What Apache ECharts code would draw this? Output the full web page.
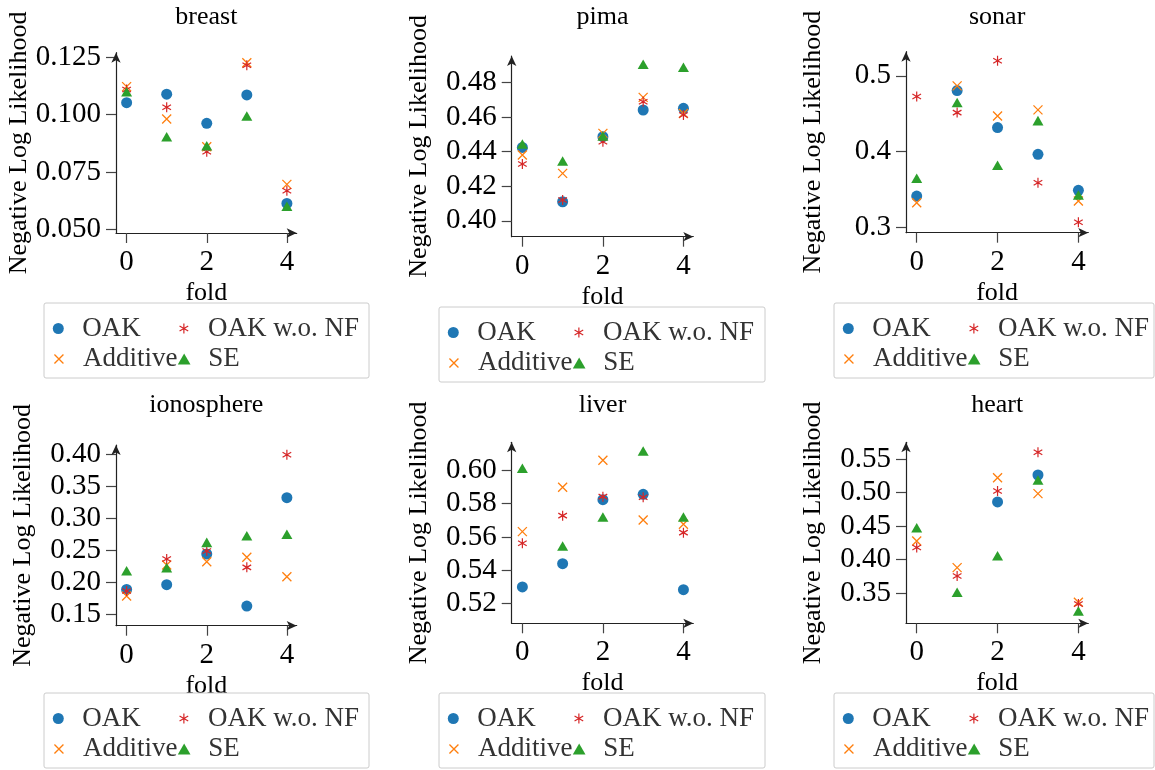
<!DOCTYPE html>
<html><head><meta charset="utf-8">
<script src="https://cdn.jsdelivr.net/npm/echarts@6/dist/echarts.min.js"></script>
<style>html,body{margin:0;padding:0;background:#fff}#c{width:1155px;height:770px}</style>
</head><body><div id="c"></div><script>
// ---------------- data ----------------
const folds = [0, 1, 2, 3, 4];
const foldTicks = [0, 2, 4];
const seriesNames = ['OAK', 'Additive', 'OAK w.o. NF', 'SE'];

const breastOAK      = [0.1052, 0.1089, 0.0962, 0.1086, 0.0613];
const breastAdditive = [0.1122, 0.0981, 0.0860, 0.1226, 0.0696];
const breastNoNF     = [0.1110, 0.1032, 0.0838, 0.1215, 0.0668];
const breastSE       = [0.1100, 0.0904, 0.0864, 0.0994, 0.0601];
const breastTicks    = [0.050, 0.075, 0.100, 0.125];

const pimaOAK      = [0.4424, 0.4110, 0.4486, 0.4640, 0.4650];
const pimaAdditive = [0.4380, 0.4274, 0.4505, 0.4713, 0.4620];
const pimaNoNF     = [0.4328, 0.4120, 0.4457, 0.4688, 0.4611];
const pimaSE       = [0.4443, 0.4345, 0.4490, 0.4904, 0.4887];
const pimaTicks    = [0.40, 0.42, 0.44, 0.46, 0.48];

const sonarOAK      = [0.3410, 0.4806, 0.4316, 0.3962, 0.3486];
const sonarAdditive = [0.3322, 0.4868, 0.4470, 0.4550, 0.3344];
const sonarNoNF     = [0.4726, 0.4514, 0.5199, 0.3587, 0.3062];
const sonarSE       = [0.3645, 0.4647, 0.3817, 0.4408, 0.3424];
const sonarTicks    = [0.3, 0.4, 0.5];

const ionoOAK      = [0.1891, 0.1965, 0.2445, 0.1630, 0.3327];
const ionoAdditive = [0.1787, 0.2272, 0.2325, 0.2393, 0.2090];
const ionoNoNF     = [0.1865, 0.2366, 0.2492, 0.2236, 0.4000];
const ionoSE       = [0.2184, 0.2231, 0.2627, 0.2732, 0.2753];
const ionoTicks    = [0.15, 0.20, 0.25, 0.30, 0.35, 0.40];

const liverOAK      = [0.5300, 0.5440, 0.5824, 0.5856, 0.5284];
const liverAdditive = [0.5632, 0.5898, 0.6060, 0.5702, 0.5676];
const liverNoNF     = [0.5562, 0.5728, 0.5842, 0.5838, 0.5626];
const liverSE       = [0.6012, 0.5546, 0.5720, 0.6116, 0.5720];
const liverTicks    = [0.52, 0.54, 0.56, 0.58, 0.60];

const heartOAK      = [null, null, 0.4858, 0.5261, null];
const heartAdditive = [0.4276, 0.3878, 0.5221, 0.4983, 0.3360];
const heartNoNF     = [0.4177, 0.3754, 0.5022, 0.5600, 0.3336];
const heartSE       = [0.4475, 0.3510, 0.4057, 0.5187, 0.3231];
const heartTicks    = [0.35, 0.40, 0.45, 0.50, 0.55];

// ---------------- style / layout ----------------
const FONT = "'Liberation Serif', 'DejaVu Serif', serif";
const colors = ['#1f77b4', '#ff7f0e', '#d62728', '#2ca02c'];
const symbols = ['circle',
  'path://M0,0L10,10M10,0L0,10',
  'path://M5,0L5,10M0.67,2.5L9.33,7.5M0.67,7.5L9.33,2.5',
  'path://M5,0L10,8.66L0,8.66Z'];
const sizes = [11, 9, 10, 11];
const iconW = [11, 9, 8.7, 11];
const strokes = [0, 1.3, 1.2, 0];
const xMin = -0.265, xMax = 4.245;

const panels = [
  {title: 'breast', ticks: breastTicks, dec: 3, data: [breastOAK, breastAdditive, breastNoNF, breastSE],
   g: [116, 52.7, 180.7, 180.3], y: [0.0484, 0.1270], titleTop: 4, box: [44, 303, 325]},
  {title: 'pima', ticks: pimaTicks, dec: 2, data: [pimaOAK, pimaAdditive, pimaNoNF, pimaSE],
   g: [511.7, 56, 181.6, 180.7], y: [0.3908, 0.4952], titleTop: 4, box: [439, 307, 326]},
  {title: 'sonar', ticks: sonarTicks, dec: 1, data: [sonarOAK, sonarAdditive, sonarNoNF, sonarSE],
   g: [906, 51.7, 182.3, 181], y: [0.2925, 0.5320], titleTop: 4, box: [834, 303, 320]},
  {title: 'ionosphere', ticks: ionoTicks, dec: 2, data: [ionoOAK, ionoAdditive, ionoNoNF, ionoSE],
   g: [116, 445, 180.7, 180.7], y: [0.1323, 0.4151], titleTop: 392, box: [44, 693, 325]},
  {title: 'liver', ticks: liverTicks, dec: 2, data: [liverOAK, liverAdditive, liverNoNF, liverSE],
   g: [511.7, 442.3, 181.6, 181], y: [0.5082, 0.6168], titleTop: 392, box: [439, 693, 326]},
  {title: 'heart', ticks: heartTicks, dec: 2, data: [heartOAK, heartAdditive, heartNoNF, heartSE],
   g: [906, 442.3, 182.3, 181], y: [0.3047, 0.5749], titleTop: 392, box: [834, 693, 320]}
];

const grid = [], xAxis = [], yAxis = [], series = [], legend = [], title = [], graphic = [];
const axisLineStyle = {color: '#222', width: 1.2};
const tickStyle = {color: '#444', width: 1.2};

panels.forEach((p, i) => {
  const [gl, gt, gw, gh] = p.g;
  grid.push({left: gl, top: gt, width: gw, height: gh, containLabel: false, show: false});
  xAxis.push({
    gridIndex: i, type: 'value', min: xMin, max: xMax,
    name: 'fold', nameLocation: 'middle', nameGap: 47,
    nameTextStyle: {fontSize: 26, fontFamily: FONT, color: '#000'},
    axisLine: {show: true, onZero: false, symbol: ['none', 'arrow'], symbolSize: [7, 10], lineStyle: axisLineStyle},
    axisTick: {show: true, customValues: foldTicks, length: 10, lineStyle: tickStyle},
    axisLabel: {show: true, customValues: foldTicks, margin: 15, fontSize: 29, fontFamily: FONT, color: '#000'},
    splitLine: {show: false}
  });
  yAxis.push({
    gridIndex: i, type: 'value', min: p.y[0], max: p.y[1],
    name: 'Negative Log Likelihood', nameLocation: 'middle', nameGap: 80,
    nameTextStyle: {fontSize: 26, fontFamily: FONT, color: '#000'},
    axisLine: {show: true, onZero: false, symbol: ['none', 'arrow'], symbolSize: [7, 10], lineStyle: axisLineStyle},
    axisTick: {show: true, customValues: p.ticks, length: 10, lineStyle: tickStyle},
    axisLabel: {show: true, customValues: p.ticks, margin: 15, fontSize: 29, fontFamily: FONT, color: '#000',
      formatter: (v) => Number(v).toFixed(p.dec)},
    splitLine: {show: false}
  });
  title.push({text: p.title, left: gl + gw / 2, top: p.titleTop, textAlign: 'center', padding: 0,
    textStyle: {fontSize: 26, fontWeight: 'normal', fontFamily: FONT, color: '#000'}});

  p.data.forEach((arr, k) => {
    series.push({
      type: 'scatter', name: seriesNames[k], xAxisIndex: i, yAxisIndex: i,
      symbol: symbols[k], symbolSize: sizes[k], symbolKeepAspect: true,
      itemStyle: {color: colors[k], borderColor: colors[k], borderWidth: strokes[k], opacity: 1},
      emphasis: {disabled: true}, silent: true, z: 2 + k,
      data: folds.map((f, j) => arr[j] == null ? null : [f, arr[j]]).filter(d => d)
    });
  });

  const [bx, by, bw] = p.box;
  graphic.push({type: 'rect', shape: {x: bx, y: by, width: bw, height: 75, r: 2},
    style: {fill: 'rgba(255,255,255,0.85)', stroke: '#cccccc', lineWidth: 1}, z: 10, silent: true});
  const pos = [[bx + 14.3, by + 25.5], [bx + 14.3, by + 56], [bx + 139.3, by + 25.5], [bx + 139.3, by + 56]];
  seriesNames.forEach((nm, k) => {
    legend.push({
      show: true, selectedMode: false, padding: 0, z: 20,
      left: pos[k][0] - iconW[k] / 2, top: pos[k][1] - 13.5, itemWidth: 38, itemHeight: sizes[k],
      data: [{name: nm, icon: symbols[k], itemStyle: {color: colors[k], borderColor: colors[k], borderWidth: strokes[k]}}],
      textStyle: {fontSize: 27, fontFamily: FONT, color: '#333'}
    });
  });
});

const chart = echarts.init(document.getElementById('c'), null, {renderer: 'canvas'});
chart.setOption({animation: false, backgroundColor: '#fff', grid, xAxis, yAxis, series, legend, title, graphic});
</script></body></html>
